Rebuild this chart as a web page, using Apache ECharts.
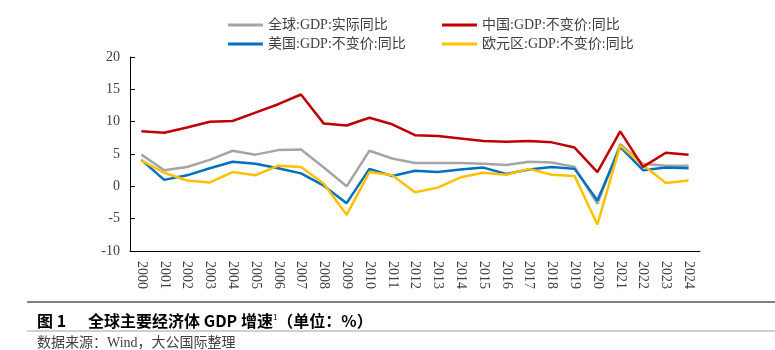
<!DOCTYPE html>
<html>
<head>
<meta charset="utf-8">
<script src="https://cdn.jsdelivr.net/npm/echarts@6/dist/echarts.min.js"></script>
<style>
html,body{margin:0;padding:0;background:#fff;}
#chart{width:775px;height:350px;}
</style>
</head>
<body>
<div id="chart"></div>
<script>
var years = ['2000','2001','2002','2003','2004','2005','2006','2007','2008','2009','2010','2011','2012','2013','2014','2015','2016','2017','2018','2019','2020','2021','2022','2023','2024'];
var worldGDP = [4.9, 2.5, 3.0, 4.1, 5.5, 4.9, 5.6, 5.7, 2.9, 0.0, 5.5, 4.3, 3.6, 3.6, 3.6, 3.5, 3.3, 3.8, 3.7, 3.0, -2.7, 6.5, 3.5, 3.2, 3.2];
var chinaGDP = [8.5, 8.3, 9.1, 10.0, 10.1, 11.4, 12.7, 14.2, 9.7, 9.4, 10.6, 9.6, 7.9, 7.8, 7.4, 7.0, 6.9, 7.0, 6.8, 6.0, 2.2, 8.5, 3.0, 5.2, 4.9];
var usGDP = [4.1, 1.0, 1.7, 2.8, 3.8, 3.5, 2.8, 2.0, 0.1, -2.6, 2.7, 1.6, 2.4, 2.2, 2.6, 2.9, 1.9, 2.6, 3.0, 2.7, -2.2, 6.1, 2.5, 2.9, 2.8];
var euroGDP = [4.0, 2.1, 0.9, 0.6, 2.2, 1.7, 3.2, 3.0, 0.4, -4.4, 2.2, 1.7, -0.9, -0.2, 1.4, 2.1, 1.8, 2.7, 1.8, 1.6, -5.9, 6.3, 3.3, 0.5, 0.9];
var seriesNames = ['全球:GDP:实际同比', '中国:GDP:不变价:同比', '美国:GDP:不变价:同比', '欧元区:GDP:不变价:同比'];
var seriesColors = ['#A5A5A5', '#C00000', '#0070C0', '#FFC000'];
var yMin = -10, yMax = 20, yStep = 5;

var fontLatin = "'Liberation Serif', 'Noto Sans CJK SC', serif";
var chart = echarts.init(document.getElementById('chart'), null, {renderer: 'canvas'});

function mkLegend(name, left, top) {
  return {
    data: [name], left: left, top: top, orient: 'horizontal',
    icon: 'rect', itemWidth: 35, itemHeight: 3, padding: 0,
    textStyle: {fontFamily: fontLatin, fontSize: 14, color: '#404040'}
  };
}

var allData = [worldGDP, chinaGDP, usGDP, euroGDP];
var series = seriesNames.map(function (n, i) {
  return {
    name: n, type: 'line', data: allData[i], symbol: 'none',
    lineStyle: {color: seriesColors[i], width: 2.5},
    itemStyle: {color: seriesColors[i]},
    z: [1, 4, 2, 3][i]
  };
});

chart.setOption({
  animation: false,
  backgroundColor: '#fff',
  legend: [
    mkLegend(seriesNames[0], 228, 18),
    mkLegend(seriesNames[1], 442, 18),
    mkLegend(seriesNames[2], 228, 37),
    mkLegend(seriesNames[3], 442, 37)
  ],
  grid: {left: 130, right: 75, top: 57, bottom: 99, containLabel: false},
  xAxis: {
    type: 'category', data: years, boundaryGap: true,
    axisLine: {onZero: false, lineStyle: {color: '#000', width: 1}},
    axisTick: {inside: true, length: 5, lineStyle: {color: '#000'}},
    axisLabel: {rotate: -90, margin: 10, fontFamily: fontLatin, fontSize: 14, color: '#404040', interval: 0}
  },
  yAxis: {
    type: 'value', min: yMin, max: yMax, interval: yStep,
    axisLine: {show: true, lineStyle: {color: '#000', width: 1}},
    axisTick: {show: true, inside: true, length: 5, lineStyle: {color: '#000'}},
    splitLine: {show: false},
    axisLabel: {margin: 10, fontFamily: fontLatin, fontSize: 14, color: '#404040'}
  },
  series: series,
  graphic: [
    {type: 'line', shape: {x1: 27, y1: 302, x2: 775, y2: 302}, style: {stroke: '#808080', lineWidth: 2}},
    {type: 'line', shape: {x1: 27, y1: 331, x2: 775, y2: 331}, style: {stroke: '#A0A0A0', lineWidth: 1}},
    {type: 'text', left: 37, top: 313, style: {
      text: '{b|图 1}{g|}{b|全球主要经济体 GDP 增速}{s|1}{b|（单位：%）}',
      rich: {
        b: {fontFamily: "'Noto Sans CJK SC', sans-serif", fontWeight: 'bold', fontSize: 16, fill: '#000'},
        g: {width: 22},
        s: {fontFamily: "'Noto Sans CJK SC', sans-serif", fontSize: 8, fill: '#000', verticalAlign: 'top', padding: [0, 0, 8, 0]}
      }
    }},
    {type: 'text', left: 37, top: 336, style: {
      text: '数据来源：Wind，大公国际整理',
      fontFamily: "'Liberation Serif', 'Noto Sans CJK SC', serif", fontSize: 14, fill: '#404040'
    }}
  ]
});
</script>
</body>
</html>
